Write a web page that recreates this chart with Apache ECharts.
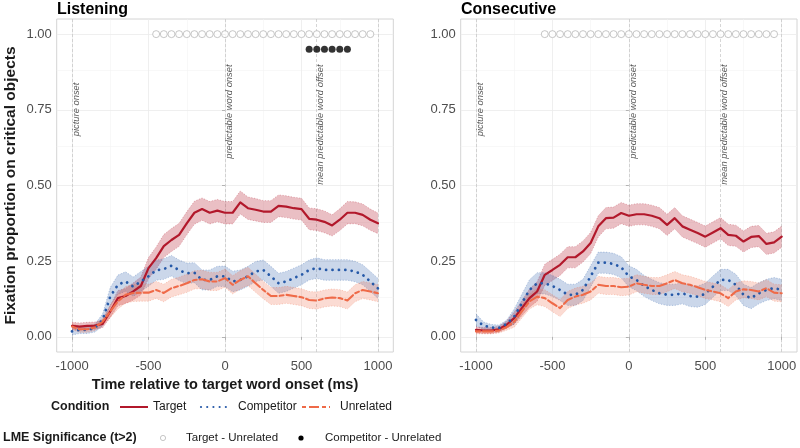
<!DOCTYPE html>
<html><head><meta charset="utf-8">
<script src="https://cdn.jsdelivr.net/npm/echarts@6/dist/echarts.min.js"></script>
<style>html,body{margin:0;padding:0;background:#fff}#c{width:800px;height:448px}</style>
</head><body><div id="c"></div>
<script>
const time = [-1000,-950,-900,-850,-800,-750,-700,-650,-600,-550,-500,-450,-400,-350,-300,-250,-200,-150,-100,-50,0,50,100,150,200,250,300,350,400,450,500,550,600,650,700,750,800,850,900,950,1000];

// Listening
const lisTarget = [0.036,0.034,0.036,0.037,0.043,0.084,0.128,0.135,0.150,0.168,0.227,0.260,0.300,0.320,0.337,0.375,0.410,0.422,0.410,0.417,0.410,0.410,0.444,0.425,0.420,0.414,0.414,0.433,0.430,0.425,0.422,0.390,0.387,0.380,0.368,0.387,0.410,0.410,0.403,0.387,0.375];
const lisTargetSe = [0.012,0.012,0.012,0.012,0.013,0.020,0.025,0.025,0.028,0.030,0.035,0.037,0.038,0.038,0.038,0.038,0.038,0.037,0.037,0.037,0.037,0.037,0.038,0.037,0.037,0.036,0.036,0.036,0.036,0.036,0.036,0.036,0.036,0.036,0.035,0.036,0.037,0.036,0.036,0.035,0.034];
const lisComp = [0.018,0.023,0.023,0.029,0.056,0.133,0.172,0.183,0.166,0.183,0.200,0.220,0.224,0.235,0.220,0.210,0.212,0.188,0.188,0.200,0.200,0.183,0.188,0.200,0.216,0.221,0.200,0.177,0.183,0.194,0.205,0.221,0.227,0.221,0.221,0.221,0.221,0.216,0.205,0.183,0.160];
const lisCompSe = [0.012,0.012,0.012,0.013,0.020,0.030,0.032,0.032,0.032,0.033,0.033,0.033,0.034,0.034,0.034,0.034,0.033,0.033,0.033,0.033,0.034,0.034,0.033,0.033,0.033,0.033,0.033,0.033,0.033,0.033,0.033,0.033,0.034,0.034,0.034,0.034,0.034,0.034,0.033,0.033,0.033];
const lisUnrel = [0.034,0.025,0.025,0.031,0.050,0.084,0.117,0.139,0.145,0.146,0.146,0.155,0.145,0.161,0.168,0.177,0.188,0.190,0.183,0.183,0.194,0.172,0.188,0.200,0.177,0.155,0.135,0.135,0.139,0.135,0.131,0.122,0.120,0.127,0.130,0.128,0.120,0.144,0.155,0.150,0.144];
const lisUnrelSe = [0.010,0.010,0.010,0.010,0.012,0.020,0.025,0.027,0.028,0.028,0.028,0.028,0.029,0.029,0.029,0.030,0.030,0.030,0.030,0.030,0.030,0.030,0.030,0.030,0.030,0.029,0.028,0.028,0.028,0.028,0.028,0.028,0.028,0.028,0.028,0.028,0.028,0.028,0.028,0.028,0.028];

// Consecutive
const conTarget = [0.023,0.021,0.021,0.025,0.040,0.062,0.095,0.128,0.150,0.205,0.221,0.238,0.263,0.263,0.282,0.310,0.365,0.392,0.394,0.409,0.400,0.405,0.405,0.400,0.392,0.370,0.392,0.365,0.354,0.343,0.331,0.345,0.359,0.337,0.334,0.315,0.330,0.333,0.307,0.312,0.331];
const conTargetSe = [0.010,0.010,0.010,0.010,0.012,0.020,0.025,0.030,0.032,0.035,0.035,0.035,0.035,0.035,0.035,0.035,0.035,0.035,0.035,0.035,0.035,0.035,0.035,0.035,0.035,0.035,0.035,0.035,0.035,0.035,0.035,0.035,0.035,0.035,0.035,0.035,0.035,0.035,0.035,0.035,0.035];
const conComp = [0.056,0.037,0.031,0.029,0.043,0.067,0.111,0.155,0.177,0.177,0.168,0.155,0.139,0.139,0.155,0.200,0.245,0.245,0.241,0.230,0.200,0.188,0.168,0.155,0.144,0.139,0.139,0.144,0.135,0.133,0.142,0.166,0.188,0.188,0.172,0.139,0.128,0.144,0.155,0.161,0.155];
const conCompSe = [0.020,0.012,0.010,0.010,0.012,0.025,0.030,0.034,0.035,0.035,0.035,0.035,0.035,0.035,0.035,0.035,0.035,0.035,0.035,0.035,0.035,0.035,0.035,0.035,0.035,0.035,0.035,0.035,0.035,0.035,0.035,0.035,0.035,0.035,0.035,0.035,0.035,0.035,0.035,0.035,0.035];
const conUnrel = [0.018,0.018,0.018,0.021,0.032,0.050,0.084,0.117,0.133,0.128,0.111,0.095,0.122,0.133,0.139,0.150,0.172,0.168,0.168,0.164,0.166,0.177,0.172,0.168,0.168,0.177,0.188,0.177,0.172,0.164,0.155,0.150,0.144,0.128,0.150,0.157,0.155,0.150,0.161,0.146,0.144];
const conUnrelSe = [0.008,0.008,0.008,0.008,0.010,0.018,0.022,0.025,0.027,0.028,0.028,0.028,0.028,0.028,0.028,0.028,0.028,0.028,0.028,0.028,0.028,0.028,0.028,0.028,0.028,0.028,0.028,0.028,0.028,0.028,0.028,0.028,0.028,0.028,0.028,0.028,0.028,0.028,0.028,0.028,0.028];

// LME significance markers
const lisSigTU = [-450,-400,-350,-300,-250,-200,-150,-100,-50,0,50,100,150,200,250,300,350,400,450,500,550,600,650,700,750,800,850,900,950];
const lisSigCU = [550,600,650,700,750,800];
const conSigTU = [-550,-500,-450,-400,-350,-300,-250,-200,-150,-100,-50,0,50,100,150,200,250,300,350,400,450,500,550,600,650,700,750,800,850,900,950];
const sigTUy = 1.0;
const sigCUy = 0.95;

// annotations
const annoLabels = ['picture onset','predictable word onset','mean predictable word offset'];
const annoX = [-1000, 0, 595];
const annoTopY = [0.84, 0.90, 0.90];
const refLines = [-1000, 0, 595, 1000];

const xTicks = [-1000,-500,0,500,1000];
const xMinor = [-750,-250,250,750];
const yTicks = [0,0.25,0.5,0.75,1];
const yMinor = [0.125,0.375,0.625,0.875];

const panels = ['Listening','Consecutive'];
const conditions = ['Target','Competitor','Unrelated'];
const colors = {Target:'#B2182B', Competitor:'#2659A8', Unrelated:'#EF6A48'};
const fills = {Target:'rgba(178,24,43,0.28)', Competitor:'rgba(38,89,168,0.24)', Unrelated:'rgba(239,106,72,0.24)'};
const lineTypes = {Target:'solid', Competitor:[0.01,6.4], Unrelated:[4,3,10,3]};
const lineWidths = {Target:2.2, Competitor:2.8, Unrelated:2.1};

const panelData = [
  {Target:[lisTarget,lisTargetSe], Competitor:[lisComp,lisCompSe], Unrelated:[lisUnrel,lisUnrelSe], sigTU:lisSigTU, sigCU:lisSigCU},
  {Target:[conTarget,conTargetSe], Competitor:[conComp,conCompSe], Unrelated:[conUnrel,conUnrelSe], sigTU:conSigTU, sigCU:[]}
];

const FONT = 'Liberation Sans, Arial, sans-serif';
const grids = [
  {left:56.7, top:19, width:336.6, height:333, show:true, borderColor:'#d4d4d4', borderWidth:1, backgroundColor:'transparent'},
  {left:460.7, top:19, width:336.3, height:333, show:true, borderColor:'#d4d4d4', borderWidth:1, backgroundColor:'transparent'}
];

const xAxes = [0,1].map(i => ({
  type:'value', gridIndex:i, min:-1100, max:1100,
  axisLine:{show:false},
  axisTick:{show:true, customValues:xTicks, length:3, lineStyle:{color:'#b3b3b3'}},
  axisLabel:{customValues:xTicks, color:'#4d4d4d', fontSize:13, fontFamily:FONT, margin:8, formatter:v=>String(v)},
  splitLine:{show:false},
  name: i===0 ? 'Time relative to target word onset (ms)' : '',
  nameLocation:'middle', nameGap:25,
  nameTextStyle:{fontWeight:'bold', fontSize:14.5, color:'#1a1a1a', fontFamily:FONT}
}));
const yAxes = [0,1].map(i => ({
  type:'value', gridIndex:i, min:-0.05, max:1.05,
  axisLine:{show:false},
  axisTick:{show:true, customValues:yTicks, length:3, lineStyle:{color:'#b3b3b3'}},
  axisLabel:{customValues:yTicks, color:'#4d4d4d', fontSize:13, fontFamily:FONT, margin:5, formatter:v=>v.toFixed(2)},
  splitLine:{show:false},
  name: i===0 ? 'Fixation proportion on critical objects' : '',
  nameLocation:'middle', nameGap:38,
  nameTextStyle:{fontWeight:'bold', fontSize:15.5, color:'#1a1a1a', fontFamily:FONT}
}));

const series = [];
panelData.forEach((pd, pi) => {
  const ml = [];
  xMinor.forEach(v => ml.push({xAxis:v, lineStyle:{color:'#f3f3f3', width:0.6, type:'solid'}}));
  yMinor.forEach(v => ml.push({yAxis:v, lineStyle:{color:'#f3f3f3', width:0.6, type:'solid'}}));
  xTicks.forEach(v => ml.push({xAxis:v, lineStyle:{color:'#ebebeb', width:0.8, type:'solid'}}));
  yTicks.forEach(v => ml.push({yAxis:v, lineStyle:{color:'#ebebeb', width:0.8, type:'solid'}}));
  refLines.forEach(v => ml.push({xAxis:v, lineStyle:{color:'#c4c4c4', width:0.7, type:[3,2]}}));
  series.push({
    type:'line', xAxisIndex:pi, yAxisIndex:pi, data:[[time[0], 0]], showSymbol:false, silent:true, z:0,
    lineStyle:{width:0},
    markLine:{silent:true, z:0, symbol:['none','none'], label:{show:false}, animation:false, data:ml}
  });
  conditions.forEach(c => {
    const vals = pd[c][0], se = pd[c][1];
    series.push({
      type:'custom', xAxisIndex:pi, yAxisIndex:pi, z:1, silent:true,
      data:[[time[0], vals[0]]],
      encode:{x:0, y:1},
      renderItem:(params, api) => {
        const up = time.map((t,k) => api.coord([t, vals[k]+se[k]]));
        const lo = time.map((t,k) => api.coord([t, vals[k]-se[k]]));
        const poly = up.concat(lo.slice().reverse());
        return {type:'group', children:[
          {type:'polygon', shape:{points:poly}, style:{fill:fills[c], stroke:null}},
          {type:'polyline', shape:{points:up}, style:{fill:null, stroke:colors[c], lineWidth:0.6, lineDash:[1.2,1.6], opacity:0.5}},
          {type:'polyline', shape:{points:lo}, style:{fill:null, stroke:colors[c], lineWidth:0.6, lineDash:[1.2,1.6], opacity:0.5}}
        ]};
      }
    });
  });
  conditions.forEach(c => {
    const vals = pd[c][0];
    series.push({
      type:'line', name:c, xAxisIndex:pi, yAxisIndex:pi, z:2, showSymbol:false, silent:true,
      data: time.map((t,k)=>[t, vals[k]]),
      lineStyle:{color:colors[c], width:lineWidths[c], type:lineTypes[c], cap:'round', join:'round'},
      animation:false
    });
  });
  series.push({
    type:'scatter', xAxisIndex:pi, yAxisIndex:pi, z:3, silent:true, symbol:'circle', symbolSize:7,
    data: pd.sigTU.map(t=>[t, sigTUy]),
    itemStyle:{color:'#ffffff', borderColor:'#b8b8b8', borderWidth:1}
  });
  series.push({
    type:'scatter', xAxisIndex:pi, yAxisIndex:pi, z:3, silent:true, symbol:'circle', symbolSize:7,
    data: pd.sigCU.map(t=>[t, sigCUy]),
    itemStyle:{color:'#000000'}
  });
  series.push({
    type:'scatter', xAxisIndex:pi, yAxisIndex:pi, z:4, silent:true, symbolSize:0,
    data: annoLabels.map((s,k)=>({value:[annoX[k], annoTopY[k]], name:s})),
    label:{show:true, position:'inside', formatter:p=>p.name, rotate:90, align:'right', verticalAlign:'top',
      fontSize:9.4, fontStyle:'italic', color:'#2e2e2e', fontFamily:FONT}
  });
});

const graphic = [
  {type:'text', left:57, top:2, style:{text:'Listening', fontFamily:FONT, fontWeight:'bold', fontSize:16, fill:'#000'}},
  {type:'text', left:461, top:2, style:{text:'Consecutive', fontFamily:FONT, fontWeight:'bold', fontSize:16, fill:'#000'}},
  {type:'text', x:51, y:407, style:{text:'Condition', fontFamily:FONT, fontWeight:'bold', fontSize:12.5, fill:'#1a1a1a', verticalAlign:'middle'}},
  {type:'line', shape:{x1:120,y1:407,x2:148,y2:407}, style:{stroke:colors.Target, lineWidth:2}},
  {type:'text', x:153, y:407, style:{text:'Target', fontFamily:FONT, fontSize:12, fill:'#1a1a1a', verticalAlign:'middle'}},
  {type:'line', shape:{x1:201,y1:407,x2:228,y2:407}, style:{stroke:colors.Competitor, lineWidth:2.2, lineDash:[0.01,6.2], lineCap:'round'}},
  {type:'text', x:238, y:407, style:{text:'Competitor', fontFamily:FONT, fontSize:12, fill:'#1a1a1a', verticalAlign:'middle'}},
  {type:'line', shape:{x1:302,y1:407,x2:330,y2:407}, style:{stroke:colors.Unrelated, lineWidth:2, lineDash:[4,3,10,3]}},
  {type:'text', x:340, y:407, style:{text:'Unrelated', fontFamily:FONT, fontSize:12, fill:'#1a1a1a', verticalAlign:'middle'}},
  {type:'text', x:3, y:438, style:{text:'LME Significance (t>2)', fontFamily:FONT, fontWeight:'bold', fontSize:12.5, fill:'#1a1a1a', verticalAlign:'middle'}},
  {type:'circle', shape:{cx:163, cy:438, r:2.6}, style:{fill:'#fff', stroke:'#b8b8b8', lineWidth:0.8}},
  {type:'text', x:186, y:438, style:{text:'Target - Unrelated', fontFamily:FONT, fontSize:11.5, fill:'#1a1a1a', verticalAlign:'middle'}},
  {type:'circle', shape:{cx:301, cy:438, r:2.6}, style:{fill:'#000'}},
  {type:'text', x:325, y:438, style:{text:'Competitor - Unrelated', fontFamily:FONT, fontSize:11.5, fill:'#1a1a1a', verticalAlign:'middle'}}
];

const chart = echarts.init(document.getElementById('c'), null, {renderer:'canvas'});
chart.setOption({
  animation:false,
  backgroundColor:'#ffffff',
  grid:grids, xAxis:xAxes, yAxis:yAxes, series, graphic
});
</script></body></html>
